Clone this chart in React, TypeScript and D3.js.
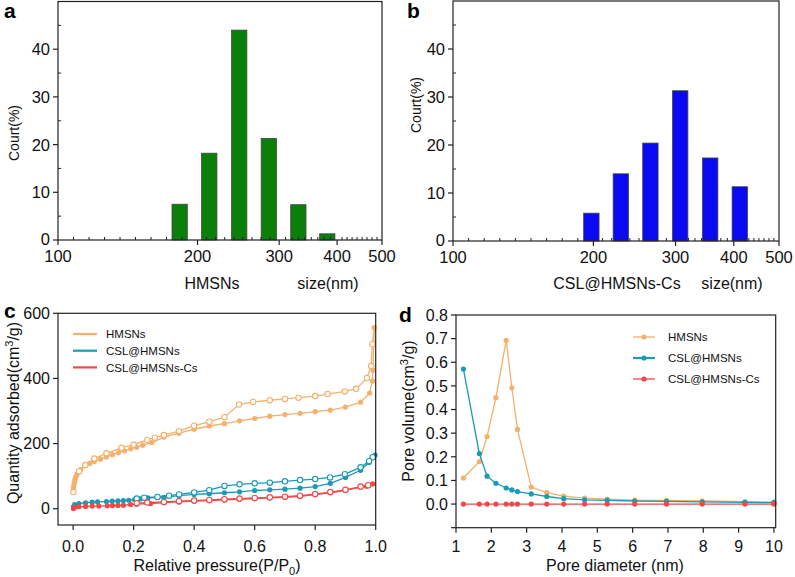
import React from 'react';
import * as d3 from 'd3';

// ---------- data ----------
const sizeTicks = [100, 200, 300, 400, 500];
const countTicks = [0, 10, 20, 30, 40];
const countMinorTicks = [5, 15, 25, 35, 45];

const hmsnsSizes = [183, 212, 246, 285, 330, 381];
const hmsnsCounts = [7.5, 18.2, 44.0, 21.3, 7.4, 1.3];
const cslCsSizes = [198, 229, 265, 307, 356, 412];
const cslCsCounts = [5.8, 14.0, 20.4, 31.3, 17.3, 11.3];

const pressureTicks = [0, 0.2, 0.4, 0.6, 0.8, 1.0];
const quantityTicks = [0, 200, 400, 600];

const hmsnsAdsP = [0.001, 0.002, 0.004, 0.006, 0.009, 0.013, 0.018, 0.025, 0.04, 0.055, 0.07, 0.09, 0.11, 0.13, 0.15, 0.17, 0.19, 0.21, 0.23, 0.26, 0.30, 0.35, 0.40, 0.45, 0.50, 0.55, 0.60, 0.65, 0.70, 0.75, 0.80, 0.85, 0.90, 0.95, 0.98, 0.989, 0.991, 0.995];
const hmsnsAdsQ = [62, 70, 80, 90, 98, 106, 113, 120, 132, 139, 145, 152, 159, 166, 172, 178, 184, 189, 195, 203, 220, 232, 244, 254, 261, 270, 277, 284, 289, 293, 298, 303, 312, 327, 355, 392, 425, 556];
const hmsnsDesP = [0.989, 0.985, 0.971, 0.935, 0.898, 0.841, 0.80, 0.745, 0.70, 0.65, 0.595, 0.548, 0.50, 0.45, 0.40, 0.35, 0.30, 0.27, 0.245, 0.20, 0.16, 0.11, 0.07, 0.04, 0.02, 0.001];
const hmsnsDesQ = [505, 438, 401, 368, 360, 352, 346, 341, 337, 333, 328, 320, 281, 267, 255, 238, 226, 218, 211, 197, 187, 170, 154, 134, 115, 51];

const cslAdsP = [0.001, 0.005, 0.019, 0.041, 0.063, 0.081, 0.11, 0.129, 0.148, 0.166, 0.184, 0.203, 0.222, 0.247, 0.30, 0.35, 0.40, 0.45, 0.50, 0.55, 0.60, 0.65, 0.70, 0.75, 0.80, 0.85, 0.90, 0.95, 0.978, 0.994, 0.998];
const cslAdsQ = [6, 13, 16, 18, 20, 21, 22, 23, 24, 25, 26, 28, 30, 33, 35, 40, 44, 46, 49, 52, 56, 58, 60, 63, 68, 78, 96, 118, 142, 160, 165];
const cslDesP = [0.99, 0.978, 0.95, 0.898, 0.849, 0.80, 0.75, 0.70, 0.65, 0.60, 0.55, 0.50, 0.45, 0.40, 0.35, 0.317, 0.279, 0.235, 0.21];
const cslDesQ = [158, 146, 127, 106, 96, 91, 88, 84, 80, 78, 75, 70, 57, 50, 44, 40, 36, 34, 31];

const cslCsAdsP = [0.001, 0.005, 0.019, 0.041, 0.063, 0.085, 0.113, 0.13, 0.148, 0.166, 0.19, 0.21, 0.256, 0.30, 0.35, 0.40, 0.45, 0.50, 0.55, 0.60, 0.65, 0.70, 0.75, 0.80, 0.85, 0.90, 0.95, 0.97, 0.99];
const cslCsAdsQ = [1, 4, 6, 7, 8, 8, 9, 9.5, 10, 10.5, 13, 14, 16, 19, 21, 23, 25, 27, 29, 31, 33, 35, 38, 43, 49, 56, 66, 69, 76];
const cslCsDesP = [0.975, 0.95, 0.90, 0.85, 0.80, 0.75, 0.70, 0.65, 0.60, 0.55, 0.50, 0.45, 0.40, 0.35, 0.30, 0.245, 0.21];
const cslCsDesQ = [72, 68, 58, 51, 45, 40, 37, 35, 33, 31, 29, 27, 25, 23, 21, 19, 17];

const diameterTicks = [1, 2, 3, 4, 5, 6, 7, 8, 9, 10];
const volumeTicks = [-0.1, 0, 0.1, 0.2, 0.3, 0.4, 0.5, 0.6, 0.7, 0.8];
const poreDiameter = [1.21, 1.66, 1.88, 2.13, 2.42, 2.58, 2.74, 3.13, 3.57, 4.05, 4.64, 5.28, 6.06, 6.96, 7.97, 9.18, 10.0];
const hmsnsPore = [0.110, 0.179, 0.286, 0.450, 0.693, 0.492, 0.316, 0.072, 0.048, 0.034, 0.025, 0.021, 0.017, 0.016, 0.013, 0.010, 0.009];
const cslPore = [0.571, 0.214, 0.118, 0.088, 0.068, 0.060, 0.053, 0.043, 0.032, 0.023, 0.018, 0.016, 0.013, 0.011, 0.009, 0.007, 0.006];
const cslCsPore = [0, 0, 0, 0, 0, 0, 0, 0, 0, 0, 0, 0, 0, 0, 0, 0, 0];

const seriesNames = ['HMSNs', 'CSL@HMSNs', 'CSL@HMSNs-Cs'];

// ---------- style ----------
const FONT = "Arial, 'Liberation Sans', Helvetica, sans-serif";
const ORANGE = '#F4B06C';
const TEAL = '#1A9AB4';
const RED = '#F24848';
const AXIS = '#222';

type BarProps = {
  left: number; right: number; top: number; bottom: number;
  sizes: number[]; counts: number[]; color: string;
  letter: string; letterX: number; letterY: number;
  ylabX: number; ylabY: number;
  nameLabel: string; nameX: number; unitX: number;
};

function BarPanel(p: BarProps) {
  const x = d3.scaleLog().domain([100, 500]).range([p.left, p.right]);
  const y = d3.scaleLinear().domain([0, 50]).range([p.bottom, p.top]);
  const halfLog = 0.0165;
  const minor: number[] = [];
  for (let i = 0; i < sizeTicks.length - 1; i++) {
    const a = Math.log10(sizeTicks[i]);
    const b = Math.log10(sizeTicks[i + 1]);
    for (let k = 1; k <= 8; k++) minor.push(Math.pow(10, a + ((b - a) * k) / 9));
  }
  return (
    <g fontFamily={FONT}>
      {p.sizes.map((s, i) => {
        const x0 = x(s / Math.pow(10, halfLog));
        const x1 = x(s * Math.pow(10, halfLog));
        return (
          <rect key={i} x={x0} y={y(p.counts[i])} width={x1 - x0}
            height={y(0) - y(p.counts[i])} fill={p.color} stroke="#444" strokeWidth={0.8} />
        );
      })}
      <rect x={p.left} y={p.top} width={p.right - p.left} height={p.bottom - p.top}
        fill="none" stroke={AXIS} strokeWidth={1.2} />
      {countTicks.map((t) => (
        <g key={t}>
          <line x1={p.left - 5} x2={p.left} y1={y(t)} y2={y(t)} stroke={AXIS} strokeWidth={1.2} />
          <text x={p.left - 8} y={y(t) - (t === 0 ? 1 : 0)} dy="0.36em" textAnchor="end" fontSize={16.5} fill="#111">{t}</text>
        </g>
      ))}
      {countMinorTicks.map((t) => (
        <line key={t} x1={p.left} x2={p.left + 3} y1={y(t)} y2={y(t)} stroke={AXIS} strokeWidth={1} />
      ))}
      {sizeTicks.map((t) => (
        <g key={t}>
          <line x1={x(t)} x2={x(t)} y1={p.bottom} y2={p.bottom + 5} stroke={AXIS} strokeWidth={1.2} />
          <text x={x(t)} y={p.bottom + 22} textAnchor="middle" fontSize={16.5} fill="#111">{t}</text>
        </g>
      ))}
      {minor.map((t, i) => (
        <line key={i} x1={x(t)} x2={x(t)} y1={p.bottom} y2={p.bottom - 3} stroke={AXIS} strokeWidth={1} />
      ))}
      <text transform={`translate(${p.ylabX},${p.ylabY}) rotate(-90)`} textAnchor="middle"
        dy="0.35em" fontSize={14} fill="#111">Court(%)</text>
      <text x={p.nameX} y={289} textAnchor="middle" fontSize={16} fill="#111">{p.nameLabel}</text>
      <text x={p.unitX} y={289} textAnchor="middle" fontSize={16} fill="#111">size(nm)</text>
      <text x={p.letterX} y={p.letterY} fontSize={21} fontWeight="bold" fill="#000">{p.letter}</text>
    </g>
  );
}

function Isotherm() {
  const left = 58, right = 375.7, top = 313.3, bottom = 525;
  const x = d3.scaleLinear().domain([-0.05, 1.0]).range([left, right]);
  const y = d3.scaleLinear().domain([-50, 600]).range([bottom, top]);
  const line = d3.line<[number, number]>().x((d) => x(d[0])).y((d) => y(d[1]));
  const zip = (a: number[], b: number[]) => a.map((v, i) => [v, b[i]] as [number, number]);
  const series = [
    { color: ORANGE, ads: zip(hmsnsAdsP, hmsnsAdsQ), des: zip(hmsnsDesP, hmsnsDesQ) },
    { color: TEAL, ads: zip(cslAdsP, cslAdsQ), des: zip(cslDesP, cslDesQ) },
    { color: RED, ads: zip(cslCsAdsP, cslCsAdsQ), des: zip(cslCsDesP, cslCsDesQ) },
  ];
  return (
    <g fontFamily={FONT}>
      {series.map((s, i) => {
        const desPath = [s.ads[s.ads.length - 1], ...s.des];
        return (
          <g key={i}>
            <path d={line(s.ads) || ''} fill="none" stroke={s.color} strokeWidth={1.3} />
            <path d={line(desPath) || ''} fill="none" stroke={s.color} strokeWidth={1.3} />
            {s.ads.map((d, j) => (
              <circle key={'a' + j} cx={x(d[0])} cy={y(d[1])} r={2.6} fill={s.color} />
            ))}
            {s.des.map((d, j) => (
              <circle key={'d' + j} cx={x(d[0])} cy={y(d[1])} r={2.7} fill="#fff" stroke={s.color} strokeWidth={1.1} />
            ))}
          </g>
        );
      })}
      <rect x={left} y={top} width={right - left} height={bottom - top} fill="none" stroke={AXIS} strokeWidth={1.2} />
      {quantityTicks.map((t) => (
        <g key={t}>
          <line x1={left - 5} x2={left} y1={y(t)} y2={y(t)} stroke={AXIS} strokeWidth={1.2} />
          <text x={left - 8} y={y(t)} dy="0.36em" textAnchor="end" fontSize={16} fill="#111">{t}</text>
        </g>
      ))}
      {pressureTicks.map((t) => (
        <g key={t}>
          <line x1={x(t)} x2={x(t)} y1={bottom} y2={bottom + 5} stroke={AXIS} strokeWidth={1.2} />
          <text x={x(t)} y={552} textAnchor="middle" fontSize={16} fill="#111">{t.toFixed(1)}</text>
        </g>
      ))}
      <text x={217} y={571} textAnchor="middle" fontSize={16} fill="#111">
        Relative pressure(P/P<tspan fontSize={11} dy={4}>0</tspan><tspan dy={-4}>)</tspan>
      </text>
      <text transform={`translate(13,413) rotate(-90)`} textAnchor="middle" dy="0.35em" fontSize={16} fill="#111">
        Quantity adsorbed(cm<tspan fontSize={11} dy={-6}>3</tspan><tspan dy={6}>/g)</tspan>
      </text>
      {seriesNames.map((n, i) => {
        const ly = 334 + i * 16.7;
        return (
          <g key={n}>
            <line x1={73} x2={97} y1={ly} y2={ly} stroke={series[i].color} strokeWidth={2.2} />
            <text x={106} y={ly} dy="0.36em" fontSize={11.5} fill="#111">{n}</text>
          </g>
        );
      })}
      <text x={4} y={318} fontSize={21} fontWeight="bold" fill="#000">c</text>
    </g>
  );
}

function PoreDist() {
  const left = 456, right = 775.7, top = 315, bottom = 527.7;
  const x = d3.scaleLinear().domain([1, 10.05]).range([left, right]);
  const y = d3.scaleLinear().domain([-0.1, 0.8]).range([bottom, top]);
  const line = d3.line<number>().x((_, i) => x(poreDiameter[i])).y((d) => y(d));
  const series = [
    { color: ORANGE, vals: hmsnsPore },
    { color: TEAL, vals: cslPore },
    { color: RED, vals: cslCsPore },
  ];
  return (
    <g fontFamily={FONT}>
      {series.map((s, i) => (
        <g key={i}>
          <path d={line(s.vals) || ''} fill="none" stroke={s.color} strokeWidth={1.3} />
          {s.vals.map((v, j) => (
            <circle key={j} cx={x(poreDiameter[j])} cy={y(v)} r={2.6} fill={s.color} />
          ))}
        </g>
      ))}
      <rect x={left} y={top} width={right - left} height={bottom - top} fill="none" stroke={AXIS} strokeWidth={1.2} />
      {volumeTicks.map((t) => (
        <g key={t}>
          <line x1={left - 5} x2={left} y1={y(t)} y2={y(t)} stroke={AXIS} strokeWidth={1.2} />
          {t >= 0 && (
            <text x={left - 8} y={y(t)} dy="0.36em" textAnchor="end" fontSize={16} fill="#111">{t.toFixed(1)}</text>
          )}
        </g>
      ))}
      {diameterTicks.map((t) => (
        <g key={t}>
          <line x1={x(t)} x2={x(t)} y1={bottom} y2={bottom + 5} stroke={AXIS} strokeWidth={1.2} />
          <text x={x(t)} y={552} textAnchor="middle" fontSize={16} fill="#111">{t}</text>
        </g>
      ))}
      <text x={615} y={571} textAnchor="middle" fontSize={16} fill="#111">Pore diameter (nm)</text>
      <text transform={`translate(408,411) rotate(-90)`} textAnchor="middle" dy="0.35em" fontSize={16} fill="#111">
        Pore volume(cm<tspan fontSize={11} dy={-6}>3</tspan><tspan dy={6}>/g)</tspan>
      </text>
      {seriesNames.map((n, i) => {
        const ly = 337 + i * 21;
        return (
          <g key={n}>
            <line x1={633} x2={655} y1={ly} y2={ly} stroke={series[i].color} strokeWidth={i === 1 ? 2.2 : 1.3} />
            <circle cx={644} cy={ly} r={2.6} fill={series[i].color} />
            <text x={668} y={ly} dy="0.36em" fontSize={11.5} fill="#111">{n}</text>
          </g>
        );
      })}
      <text x={399} y={322} fontSize={21} fontWeight="bold" fill="#000">d</text>
    </g>
  );
}

export default function App() {
  return (
    <svg width={795} height={577} viewBox="0 0 795 577"
      style={{ position: 'absolute', left: 0, top: 0, background: '#fff' }}>
      <rect width={795} height={577} fill="#fff" />
      <BarPanel left={58} right={382} top={1.5} bottom={240} sizes={hmsnsSizes} counts={hmsnsCounts}
        color="#0A7F0A" letter="a" letterX={4} letterY={18} ylabX={14} ylabY={133}
        nameLabel="HMSNs" nameX={212} unitX={328} />
      <BarPanel left={453} right={779} top={1} bottom={241} sizes={cslCsSizes} counts={cslCsCounts}
        color="#0A0AF2" letter="b" letterX={407} letterY={18} ylabX={416} ylabY={105}
        nameLabel="CSL@HMSNs-Cs" nameX={617} unitX={732} />
      <Isotherm />
      <PoreDist />
    </svg>
  );
}
